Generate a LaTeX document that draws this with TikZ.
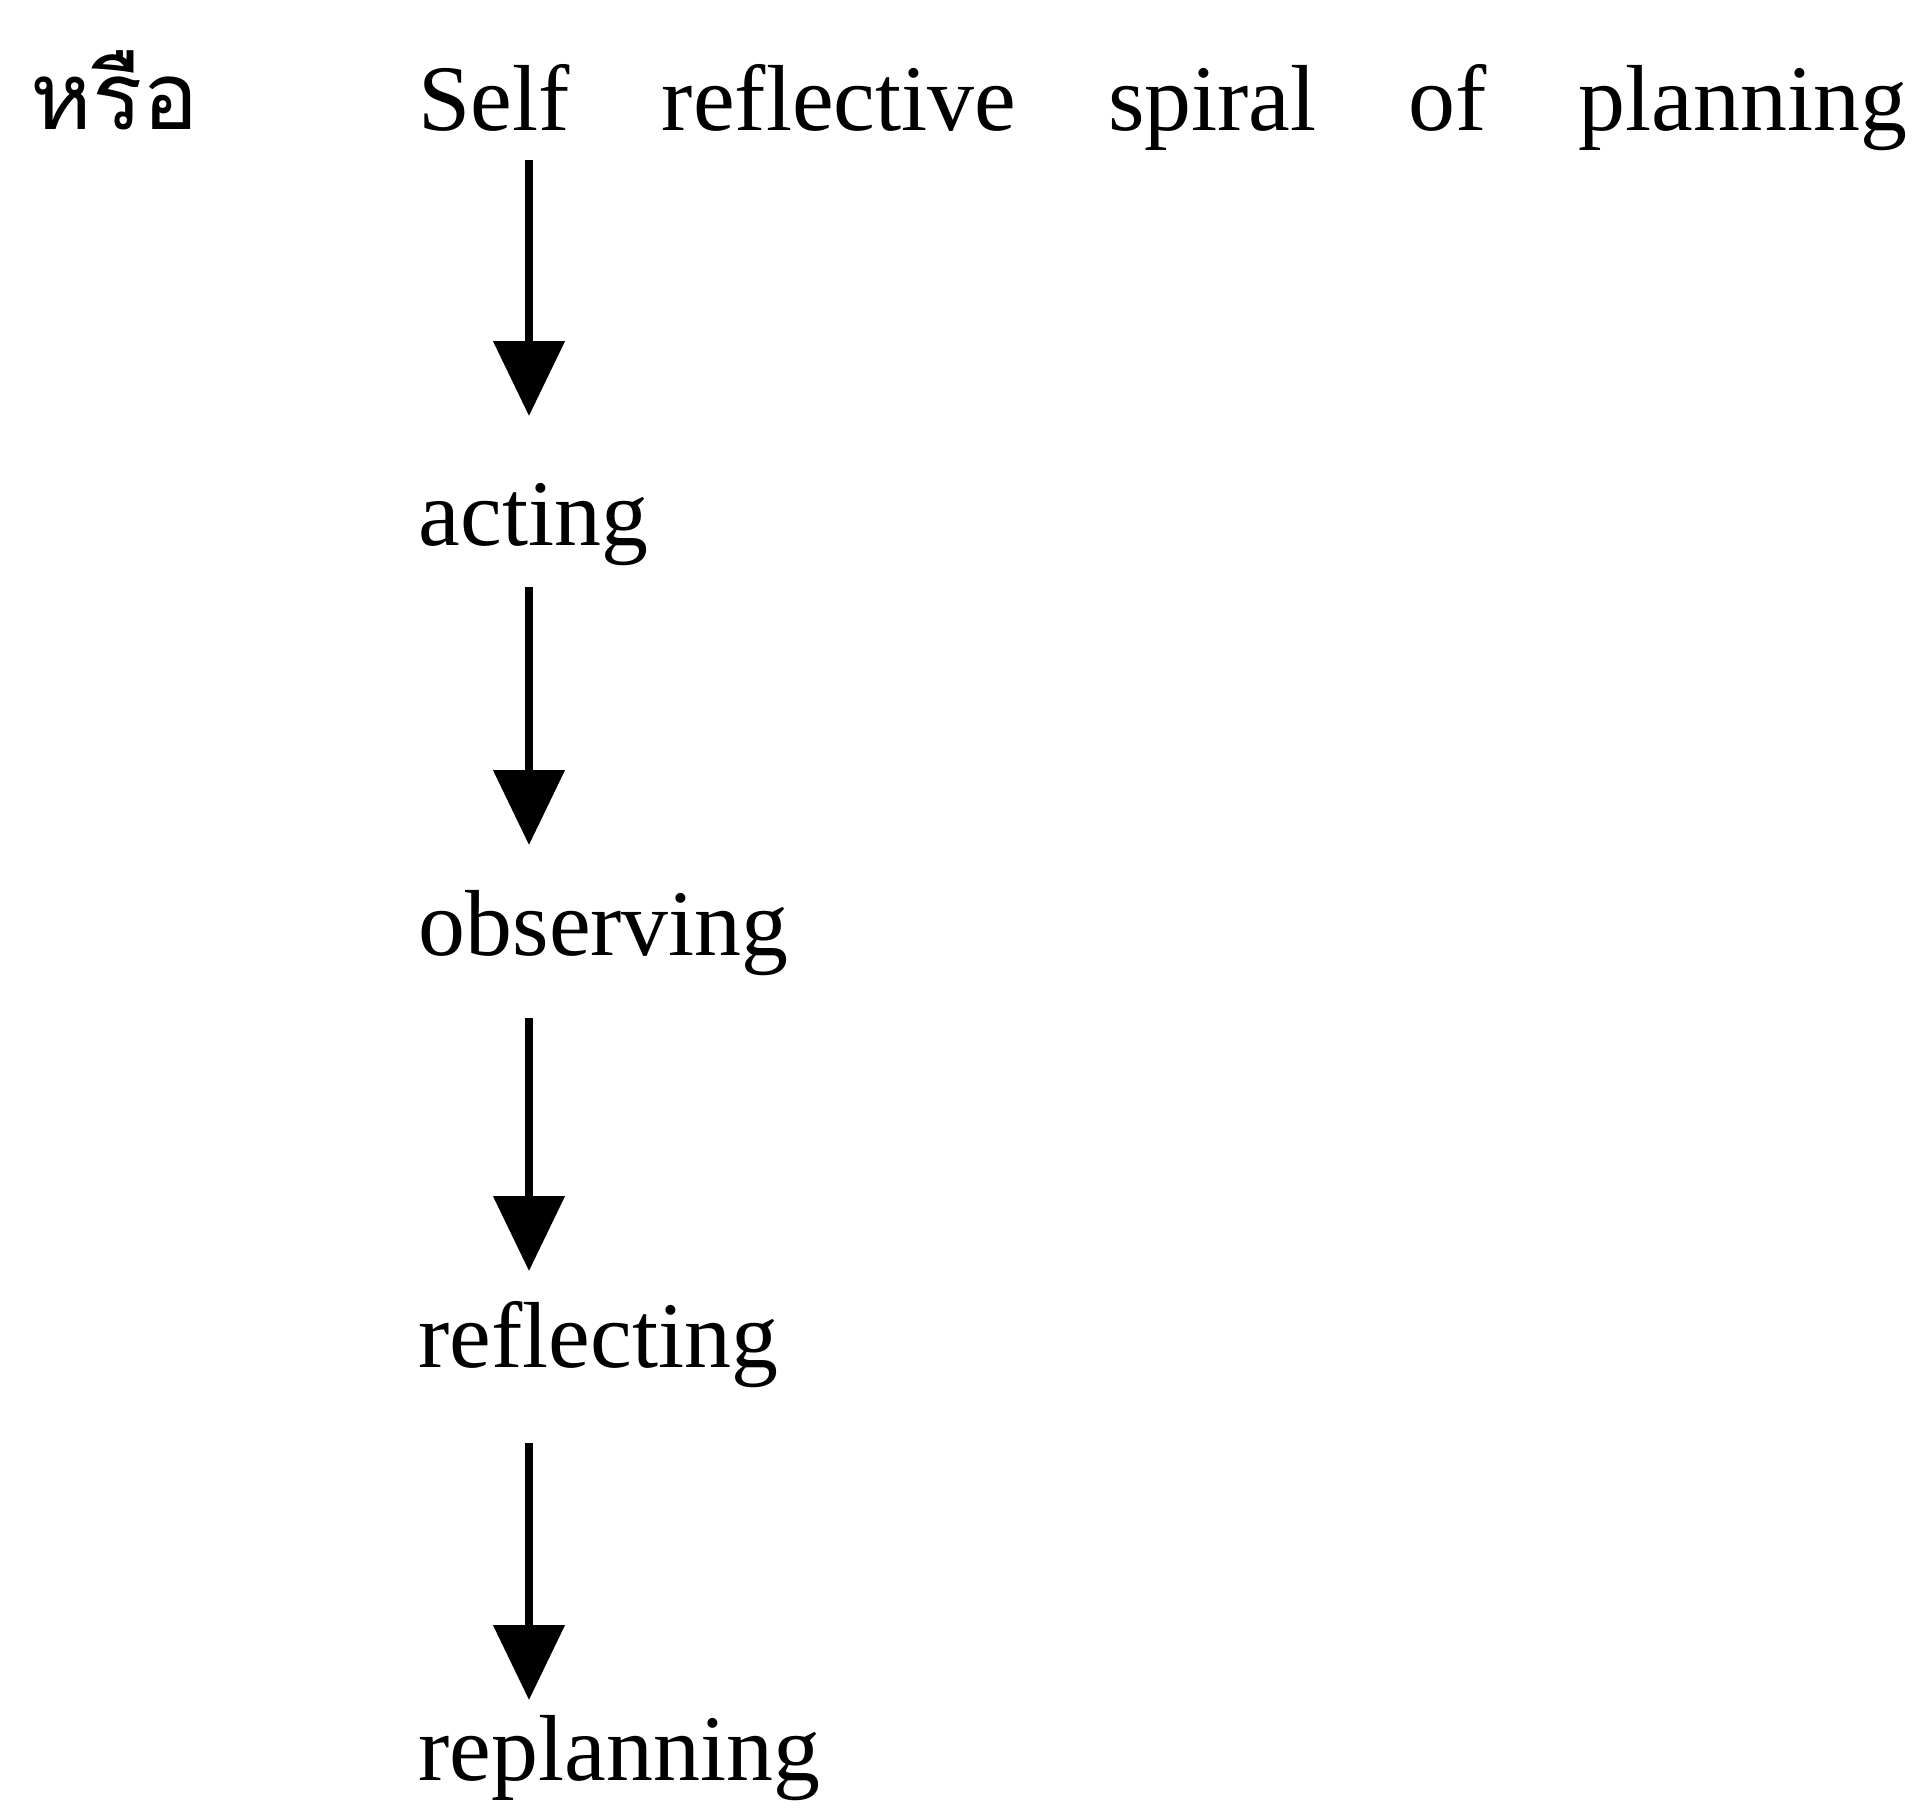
\documentclass[tikz,border=0pt]{standalone}
\usepackage{fontspec}
\setmainfont{Liberation Serif}
\newfontfamily\thaifont[Script=Thai]{Loma}
\usetikzlibrary{arrows.meta}

\begin{document}
\begin{tikzpicture}[join=round, % planning spiral, top to bottom
       word/.style={anchor=base west,inner sep=0pt,font=\fontsize{26.7pt}{32pt}\selectfont},
       flow/.style={line width=2.3pt,-{Triangle[width=0.70cm,length=0.75cm]}}]
       \useasboundingbox (0,0) rectangle (19.16,-18.12);
       \coordinate (ax) at (5.29,0);
       \node[word,font=\fontsize{26.7pt}{32pt}\thaifont] (hrue) at (0.30,-1.29) {หรือ};
       \node[word] (title) at (4.18,-1.30) {\spaceskip=0.92cm Self reflective spiral of planning};
       \node[word] (act) at (4.18,-5.45) {acting};
       \node[word] (obs) at (4.18,-9.55) {observing};
       \node[word] (refl) at (4.18,-13.67) {reflecting};
       \node[word] (replan) at (4.18,-17.80) {replanning};
       \draw[flow,shorten <=0.30cm,shorten >=1.29cm] (title.base -| ax) -- (act.base -| ax);
       \draw[flow,shorten <=0.42cm,shorten >=1.10cm] (act.base -| ax) -- (obs.base -| ax);
       \draw[flow,shorten <=0.63cm,shorten >=0.96cm] (obs.base -| ax) -- (refl.base -| ax);
       \draw[flow,shorten <=0.76cm,shorten >=0.80cm] (refl.base -| ax) -- (replan.base -| ax);
   \end{tikzpicture}
\end{document}
